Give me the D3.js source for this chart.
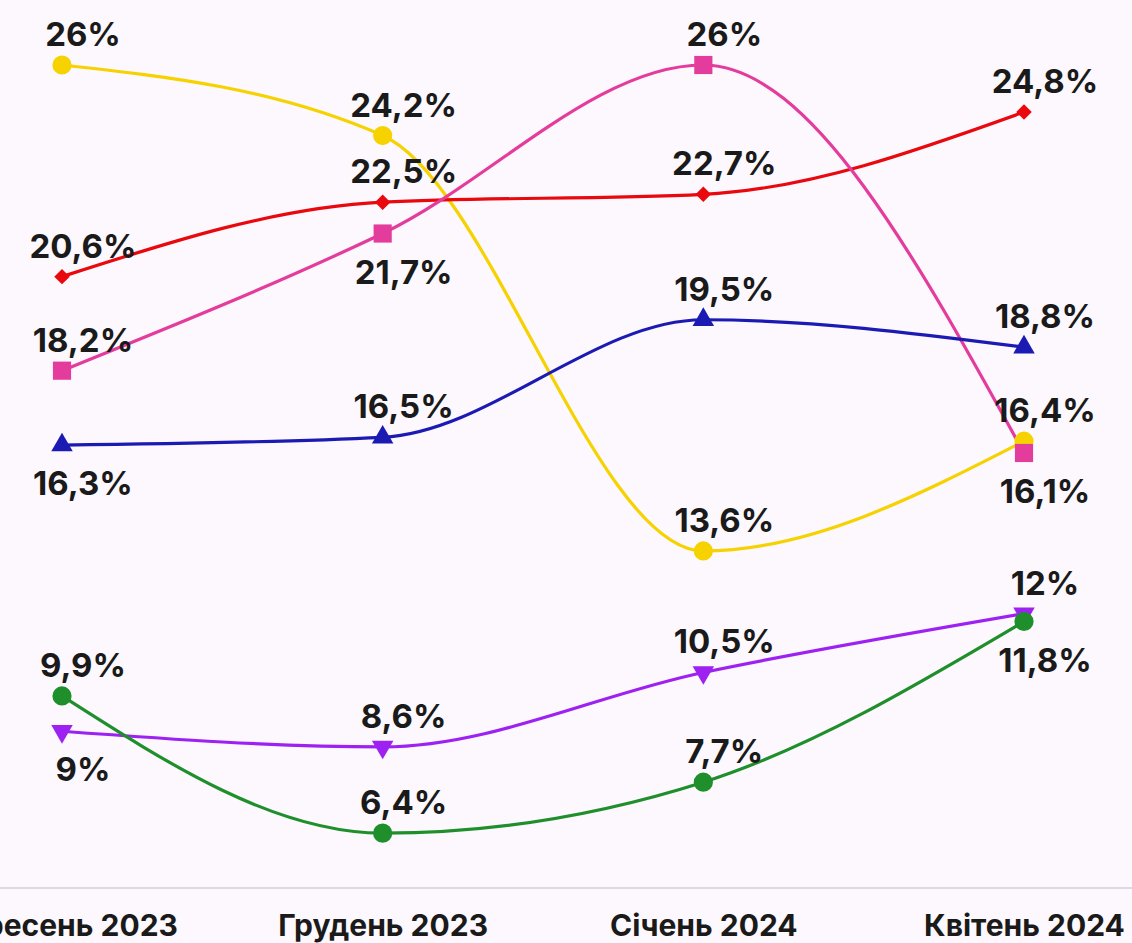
<!DOCTYPE html>
<html>
<head>
<meta charset="utf-8">
<script src="https://cdn.jsdelivr.net/npm/d3@7"></script>
<style>
  html, body { margin: 0; padding: 0; background: #fcf8fd; }
  #line_chart { width: 1132px; height: 943px; overflow: hidden; }
  text { font-family: Inter, "Noto Sans", sans-serif; font-weight: 700; fill: #1a1a1a; }
</style>
</head>
<body>
<div id="line_chart"></div>
<script>
  let categories = ["Вересень 2023", "Грудень 2023", "Січень 2024", "Квітень 2024"];

  let yellowValues = [26, 24.2, 13.6, 16.4];
  let redValues = [20.6, 22.5, 22.7, 24.8];
  let pinkValues = [18.2, 21.7, 26, 16.1];
  let blueValues = [16.3, 16.5, 19.5, 18.8];
  let purpleValues = [9, 8.6, 10.5, 12];
  let greenValues = [9.9, 6.4, 7.7, 11.8];

  // label above (-1) or below (1) each point
  let yellowPlace = [-1, -1, -1, -1];
  let redPlace = [-1, -1, -1, -1];
  let pinkPlace = [-1, 1, -1, 1];
  let bluePlace = [1, -1, -1, -1];
  let purplePlace = [1, -1, -1, -1];
  let greenPlace = [-1, -1, -1, 1];

  let draw = () => {
    let width = 1132;
    let height = 943;

    let series = [
      { values: yellowValues, place: yellowPlace, color: "#f6d200", symbol: d3.symbolCircle, size: 290, rotate: 0 },
      { values: redValues, place: redPlace, color: "#e8080e", symbol: d3.symbolSquare, size: 120, rotate: 45 },
      { values: pinkValues, place: pinkPlace, color: "#e43c9c", symbol: d3.symbolSquare, size: 330, rotate: 0 },
      { values: blueValues, place: bluePlace, color: "#1b1bb4", symbol: d3.symbolTriangle, size: 200, rotate: 0 },
      { values: purpleValues, place: purplePlace, color: "#9d22f2", symbol: d3.symbolTriangle, size: 200, rotate: 180 },
      { values: greenValues, place: greenPlace, color: "#1f8f2c", symbol: d3.symbolCircle, size: 290, rotate: 0 },
    ];

    let svg = d3
      .select("#line_chart")
      .append("svg")
      .attr("width", width)
      .attr("height", height);

    let xScale = d3.scalePoint().domain(categories).range([62, 1024]);
    let yScale = d3.scaleLinear().domain([5, 26]).range([888, 65]);

    svg
      .append("g")
      .attr("transform", "translate(0, 888)")
      .call(d3.axisBottom(xScale).tickSize(0).tickPadding(27))
      .call((g) => g.select(".domain").attr("stroke", "#dcd9e0").attr("stroke-width", 2)
        .attr("d", `M0,0H${width}`))
      .call((g) => g.selectAll("text").attr("font-size", 30).attr("font-family", null).attr("fill", "#1a1a1a"));

    let line = d3
      .line()
      .x((d, i) => xScale(categories[i]))
      .y((d) => yScale(d))
      .curve(d3.curveMonotoneX);

    series.forEach((s) => {
      svg
        .append("path")
        .attr("d", line(s.values))
        .attr("fill", "none")
        .attr("stroke", s.color)
        .attr("stroke-width", 3.2);
    });

    series.forEach((s) => {
      svg
        .selectAll(null)
        .data(s.values)
        .enter()
        .append("path")
        .attr("d", d3.symbol(s.symbol, s.size))
        .attr("transform", (d, i) =>
          `translate(${xScale(categories[i])}, ${yScale(d)}) rotate(${s.rotate})`)
        .attr("fill", s.color);
    });

    series.forEach((s) => {
      svg
        .selectAll(null)
        .data(s.values)
        .enter()
        .append("text")
        .attr("x", (d, i) => xScale(categories[i]) + 21)
        .attr("y", (d, i) => yScale(d) + (s.place[i] < 0 ? -19 : 50))
        .attr("text-anchor", "middle")
        .attr("font-size", 33)
        .text((d) => String(d).replace(".", ",") + "%");
    });
  };

  draw();
</script>
</body>
</html>
